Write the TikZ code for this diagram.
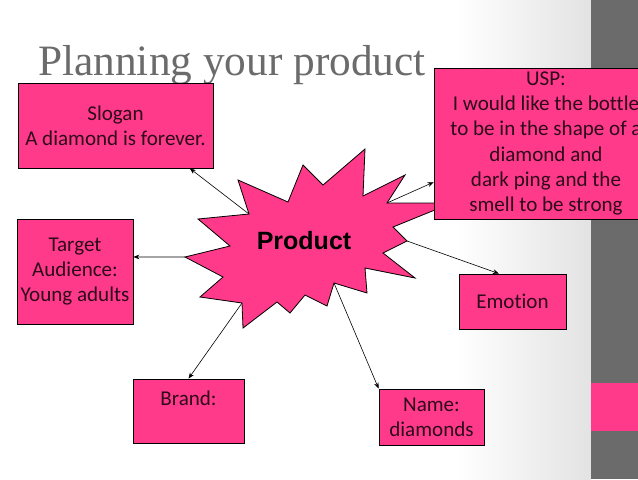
\documentclass[tikz,border=0pt]{standalone}
\usepackage{fontspec}
\setmainfont{Carlito}[Ligatures=NoCommon]
\newfontfamily\titlefont{Liberation Serif}
\newfontfamily\burstfont{Liberation Sans}
\usetikzlibrary{arrows.meta}
\definecolor{hotpink}{HTML}{FF3A8A}
\definecolor{slidegrey}{HTML}{6B6B6B}
\definecolor{boxtext}{HTML}{2E0A1A}
\tikzset{
  pinkbox/.style={draw=black, fill=hotpink, line width=0.6pt, inner sep=0pt,
    align=center, text=boxtext, font=\fontsize{15.8pt}{18.8pt}\selectfont},
  link/.style={-{Stealth[length=4.5pt,width=3.5pt]}, line width=0.45pt}
}

\begin{document}
\begin{tikzpicture}[x=0.75pt,y=-0.75pt]
    \clip (0,0) rectangle (638,479);
    \fill[white] (0,0) rectangle (638,479);
    \shade[left color=white, right color=black!11] (455,0) rectangle (591,479);
    \fill[slidegrey] (591,0) rectangle (638,479);
    \fill[hotpink] (591,383) rectangle (638,431);

    \node[anchor=base west, inner sep=0pt, text=slidegrey,
      font=\titlefont\fontsize{32.5pt}{36pt}\selectfont] (title) at (38,75) {Planning your product};

    % starburst
    \draw[fill=hotpink, line width=0.6pt] (303,165) -- (288,202) -- (238,180)
      -- (249,214) coordinate (sSlogan) -- (198,219) -- (230,246)
      -- (185,257) coordinate (sTarget) -- (223,277) -- (200,297)
      -- (242,303) coordinate (sBrand) -- (243,328) -- (277,302) -- (290,313)
      -- (305,295) -- (327,306) -- (334,283) coordinate (sName) -- (367,293)
      -- (365,268) -- (415,278) -- (383,253) -- (407,241) coordinate (sEmotion)
      -- (393,227) -- (452,203) -- (387,203) coordinate (sUsp) -- (405,175)
      -- (363,196) -- (365,149) -- (323,185) -- cycle;
    \node[font=\burstfont\bfseries\fontsize{18.75pt}{22pt}\selectfont] (product) at (304,241) {Product};

    \node[pinkbox, minimum width=146.25pt, minimum height=63.75pt] (slogan) at (115.5,125.5) {Slogan\\A diamond is forever.};
    \node[pinkbox, minimum width=87pt, minimum height=78.75pt] (target) at (75,271.5) {Target\\Audience:\\Young adults};
    \node[pinkbox, minimum width=168pt, minimum height=113.25pt] (usp) at (546,143.5)
      {USP:\\I would like the bottle\\to be in the shape of a\\diamond and\\dark ping and the\\smell to be strong};
    \node[pinkbox, minimum width=80.25pt, minimum height=41.25pt] (emotion) at (512.5,301.5) {Emotion};
    \node[pinkbox, minimum width=83.25pt, minimum height=48pt] (brand) at (188.5,411) {Brand:\\\mbox{}};
    \node[pinkbox, minimum width=78.75pt, minimum height=42pt] (name) at (431.5,417) {Name:\\diamonds};

    \draw[link] (sSlogan) -- (slogan.-30);
    \draw[link] (sTarget) -- (target.14);
    \draw[link] (sBrand) -- (brand.north);
    \draw[link] (sName) -- (name.north west);
    \draw[link] (sEmotion) -- (emotion.116);
    \draw[link] (sUsp) -- (usp.199);
\end{tikzpicture}
\end{document}
